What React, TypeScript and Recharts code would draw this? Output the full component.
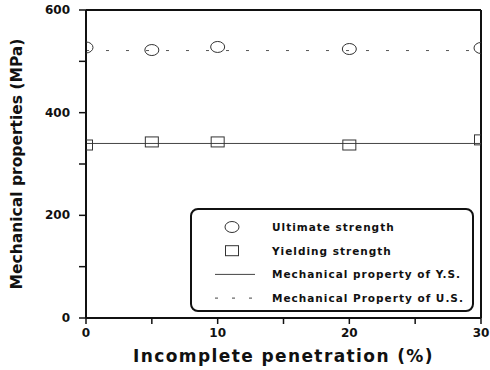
import {
  ComposedChart,
  Line,
  Scatter,
  XAxis,
  YAxis,
  ReferenceLine,
  Legend,
} from 'recharts';

const penetration = [0, 5, 10, 20, 30];
const ultimateStrength = [527, 522, 528, 524, 526];
const yieldingStrength = [337, 343, 343, 337, 347];
const lineSpan = [0, 30];
const usProperty = 521;
const ysProperty = 340;

const xTicks = [0, 5, 10, 15, 20, 25, 30];
const xLabels = [0, 10, 20, 30];
const yTicks = [0, 100, 200, 300, 400, 500, 600];
const yLabels = [0, 200, 400, 600];

const legendItems = [
  { key: 'us', label: 'Ultimate strength' },
  { key: 'ys', label: 'Yielding strength' },
  { key: 'ysLine', label: 'Mechanical property of Y.S.' },
  { key: 'usLine', label: 'Mechanical Property of U.S.' },
];

const usPoints = penetration.map((x, i) => ({ x, y: ultimateStrength[i] }));
const ysPoints = penetration.map((x, i) => ({ x, y: yieldingStrength[i] }));
const usLineData = lineSpan.map((x) => ({ x, y: usProperty }));
const ysLineData = lineSpan.map((x) => ({ x, y: ysProperty }));

const FONT = '"DejaVu Sans", sans-serif';
const INK = '#111';

function Ellipse(props: any) {
  const { cx, cy } = props;
  return <ellipse cx={cx} cy={cy} rx={7} ry={5.5} fill="none" stroke="#333" strokeWidth={1} />;
}

function Square(props: any) {
  const { cx, cy } = props;
  return <rect x={cx - 6.5} y={cy - 5} width={13} height={10} fill="none" stroke="#333" strokeWidth={1} />;
}

function XTick(props: any) {
  const { x, y, payload } = props;
  if (!xLabels.includes(payload.value)) return <g />;
  return (
    <text x={x} y={y} dy={10} textAnchor="middle" fontFamily={FONT} fontWeight="bold" fontSize={12} fill={INK}>
      {payload.value}
    </text>
  );
}

function YTick(props: any) {
  const { x, y, payload } = props;
  if (!yLabels.includes(payload.value)) return <g />;
  return (
    <text x={x} y={y} dy={4} textAnchor="end" fontFamily={FONT} fontWeight="bold" fontSize={12} fill={INK}>
      {payload.value}
    </text>
  );
}

// plot area runs from y=10 to y=318, so its middle is 164
function YTitle() {
  return (
    <text
      transform="translate(22, 164) rotate(-90)"
      textAnchor="middle"
      fontFamily={FONT}
      fontWeight="bold"
      fontSize={15.5}
      fill={INK}
    >
      Mechanical properties (MPa)
    </text>
  );
}

function LegendBox() {
  return (
    <div
      style={{
        position: 'relative',
        width: 284,
        height: 104,
        border: '2px solid #111',
        borderRadius: 8,
        background: '#fff',
        boxSizing: 'border-box',
      }}
    >
      <svg width={280} height={100} style={{ position: 'absolute', left: 0, top: 0 }}>
        {legendItems.map((item, i) => {
          const cy = 17 + i * 23.7;
          let symbol;
          if (item.key === 'us') symbol = <ellipse cx={40} cy={cy} rx={7} ry={5.5} fill="none" stroke="#333" />;
          else if (item.key === 'ys') symbol = <rect x={33.5} y={cy - 5} width={13} height={10} fill="none" stroke="#333" />;
          else if (item.key === 'ysLine') symbol = <line x1={23} x2={63} y1={cy} y2={cy} stroke="#444" />;
          else symbol = <line x1={23} x2={63} y1={cy} y2={cy} stroke="#444" strokeDasharray="3 14" />;
          return (
            <g key={item.key}>
              {symbol}
              <text
                x={80}
                y={cy + 4}
                fontFamily={FONT}
                fontWeight="bold"
                fontSize={10.5}
                letterSpacing={1}
                fill={INK}
              >
                {item.label}
              </text>
            </g>
          );
        })}
      </svg>
    </div>
  );
}

export default function App() {
  return (
    <div style={{ position: 'absolute', left: 0, top: 0, width: 490, height: 370, background: '#fff' }}>
      <ComposedChart width={490} height={370} margin={{ top: 10, right: 9, left: 0, bottom: 0 }}>
        <XAxis
          type="number"
          dataKey="x"
          domain={[0, 30]}
          ticks={xTicks}
          interval={0}
          allowDataOverflow
          height={52}
          axisLine={{ stroke: INK, strokeWidth: 2 }}
          tickLine={{ stroke: INK, strokeWidth: 1.5 }}
          tickSize={6}
          tickMargin={3}
          tick={<XTick />}
          label={{
            value: 'Incomplete penetration (%)',
            position: 'insideBottom',
            offset: 8,
            fontFamily: FONT,
            fontWeight: 'bold',
            fontSize: 17,
            letterSpacing: 1.4,
            fill: INK,
          }}
        />
        <YAxis
          type="number"
          dataKey="y"
          domain={[0, 600]}
          ticks={yTicks}
          interval={0}
          width={86}
          axisLine={{ stroke: INK, strokeWidth: 2 }}
          tickLine={{ stroke: INK, strokeWidth: 1.5 }}
          tickSize={7}
          tickMargin={9}
          tick={<YTick />}
          label={{ content: <YTitle /> }}
        />
        <ReferenceLine y={600} stroke={INK} strokeWidth={2} />
        <ReferenceLine x={30} stroke={INK} strokeWidth={2} />
        <Line
          data={usLineData}
          dataKey="y"
          type="linear"
          stroke="#555"
          strokeWidth={1}
          strokeDasharray="3 17"
          dot={false}
          isAnimationActive={false}
        />
        <Line
          data={ysLineData}
          dataKey="y"
          type="linear"
          stroke="#444"
          strokeWidth={1}
          dot={false}
          isAnimationActive={false}
        />
        <Scatter data={usPoints} dataKey="y" shape={<Ellipse />} isAnimationActive={false} />
        <Scatter data={ysPoints} dataKey="y" shape={<Square />} isAnimationActive={false} />
        <Legend
          layout="horizontal"
          verticalAlign="middle"
          align="center"
          content={<LegendBox />}
          wrapperStyle={{ position: 'absolute', left: 190, top: 208, width: 284, height: 104 }}
        />
      </ComposedChart>
    </div>
  );
}
